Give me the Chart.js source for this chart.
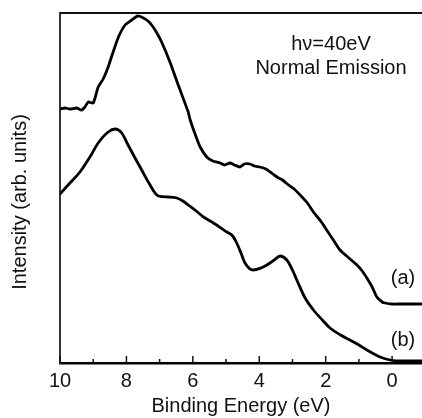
<!DOCTYPE html>
<html>
<head>
<meta charset="utf-8">
<script src="https://cdn.jsdelivr.net/npm/chart.js@4.4.1/dist/chart.umd.min.js"></script>
<style>
  html, body { margin: 0; padding: 0; background: #fff; }
  canvas { display: block; }
</style>
</head>
<body>
<canvas id="spectrum" width="422" height="418"></canvas>
<script>
// Binding energy (eV) and intensity (arb. units)
const energyA = [10.0, 9.85, 9.7, 9.5, 9.35, 9.25, 9.15, 9.0, 8.85, 8.7, 8.55, 8.4, 8.24, 8.04, 7.84, 7.66, 7.49, 7.35, 7.24, 7.1, 6.94, 6.69, 6.44, 6.14, 6.08, 5.9, 5.78, 5.58, 5.4, 5.18, 5.05, 4.88, 4.75, 4.58, 4.45, 4.28, 4.15, 3.98, 3.8, 3.67, 3.55, 3.42, 3.3, 3.12, 2.95, 2.77, 2.55, 2.37, 2.15, 1.97, 1.75, 1.57, 1.3, 1.06, 0.9, 0.76, 0.6, 0.46, 0.3, 0.21, 0.0, -0.24, -0.5, -0.9];
const intensityA = [254, 255, 254, 255, 253, 256, 261, 260, 276, 284, 296, 311, 326, 338, 343, 347, 345, 342, 338, 331, 321, 301, 278, 251, 243, 226, 216, 206, 202, 200, 198, 200, 198, 196, 199, 199, 197, 196, 194, 191, 188, 185, 183, 178, 174, 168, 160, 151, 142, 133, 122, 113, 105, 98, 92, 85, 76, 66, 61, 60, 59, 59, 59, 59];

const energyB = [10.0, 9.7, 9.4, 9.1, 8.85, 8.55, 8.34, 8.14, 7.95, 7.74, 7.54, 7.34, 7.04, 6.74, 6.48, 6.3, 6.14, 5.9, 5.68, 5.38, 4.98, 4.8, 4.68, 4.55, 4.43, 4.18, 3.95, 3.77, 3.55, 3.37, 3.17, 3.0, 2.87, 2.62, 2.37, 2.1, 1.87, 1.55, 1.27, 1.0, 0.76, 0.36, 0.06, -0.24, -0.9];
const intensityB = [169, 180, 191, 206, 220, 231, 234, 230, 218, 205, 193, 181, 167, 166, 165, 162, 158, 152, 146, 140, 131, 127, 120, 110, 100, 93, 95, 98, 103, 107, 103, 93, 83, 65, 53, 43, 35, 28, 23, 18, 13, 6, 3, 2, 2];

const xTickValues = [10, 9, 8, 7, 6, 5, 4, 3, 2, 1, 0];

const FONT = "'Liberation Sans', Arial, sans-serif";

function toPoints(xs, ys) {
  return xs.map((x, i) => ({ x: x, y: ys[i] }));
}

// frame, inward ticks and labels that sit inside the plot
const decorations = {
  id: "decorations",
  afterDraw(chart) {
    const ctx = chart.ctx;
    const area = chart.chartArea;
    const xScale = chart.scales.x;
    ctx.save();

    // top frame line
    ctx.strokeStyle = "#111";
    ctx.lineWidth = 2;
    ctx.beginPath();
    ctx.moveTo(area.left, area.top);
    ctx.lineTo(area.right, area.top);
    ctx.stroke();

    // tick marks pointing into the plot
    ctx.lineWidth = 1.5;
    xTickValues.forEach((v) => {
      const px = xScale.getPixelForValue(v);
      const len = v % 2 === 0 ? 7 : 4;
      ctx.beginPath();
      ctx.moveTo(px, area.bottom);
      ctx.lineTo(px, area.bottom - len);
      ctx.stroke();
    });

    ctx.fillStyle = "#111";
    ctx.font = "20px " + FONT;
    ctx.textAlign = "center";
    ctx.textBaseline = "middle";
    ctx.fillText("h\u03bd=40eV", 331, 44);
    ctx.fillText("Normal Emission", 331, 68);
    ctx.fillText("(a)", 403, 278);
    ctx.fillText("(b)", 403, 340);

    // y axis title
    ctx.translate(20, 202);
    ctx.rotate(-Math.PI / 2);
    ctx.fillText("Intensity (arb. units)", 0, 0);
    ctx.restore();
  },
};

const spectrumChart = new Chart(document.getElementById("spectrum").getContext("2d"), {
  type: "line",
  data: {
    datasets: [
      {
        label: "(a)",
        data: toPoints(energyA, intensityA),
        borderColor: "#000",
        borderWidth: 2.8,
        pointRadius: 0,
        tension: 0.2,
        fill: false,
      },
      {
        label: "(b)",
        data: toPoints(energyB, intensityB),
        borderColor: "#000",
        borderWidth: 2.8,
        pointRadius: 0,
        tension: 0.4,
        cubicInterpolationMode: "monotone",
        fill: false,
      },
    ],
  },
  options: {
    responsive: false,
    animation: false,
    layout: { padding: { top: 13, right: 0, bottom: 0, left: 0 } },
    plugins: {
      legend: { display: false },
      tooltip: { enabled: false },
    },
    scales: {
      x: {
        type: "linear",
        position: "bottom",
        reverse: true,
        min: -0.9,
        max: 10,
        afterBuildTicks: (scale) => {
          scale.ticks = xTickValues.map((v) => ({ value: v }));
        },
        afterFit: (scale) => {
          scale.height = 55;
          scale.paddingLeft = 0;
          scale.paddingRight = 0;
        },
        grid: { display: false, drawTicks: false },
        border: { display: true, color: "#000", width: 2.5 },
        ticks: {
          autoSkip: false,
          maxRotation: 0,
          padding: 6,
          color: "#111",
          font: { family: FONT, size: 20 },
          callback: (v) => (v % 2 === 0 ? String(v) : ""),
        },
        title: {
          display: true,
          text: "Binding Energy (eV)",
          color: "#111",
          font: { family: FONT, size: 20 },
          padding: { top: 0, bottom: 0 },
        },
      },
      y: {
        type: "linear",
        min: 0,
        max: 350,
        afterFit: (scale) => {
          scale.width = 60;
        },
        grid: { display: false, drawTicks: false },
        border: { display: true, color: "#333", width: 2 },
        ticks: { display: false },
      },
    },
  },
  plugins: [decorations],
});
</script>
</body>
</html>
